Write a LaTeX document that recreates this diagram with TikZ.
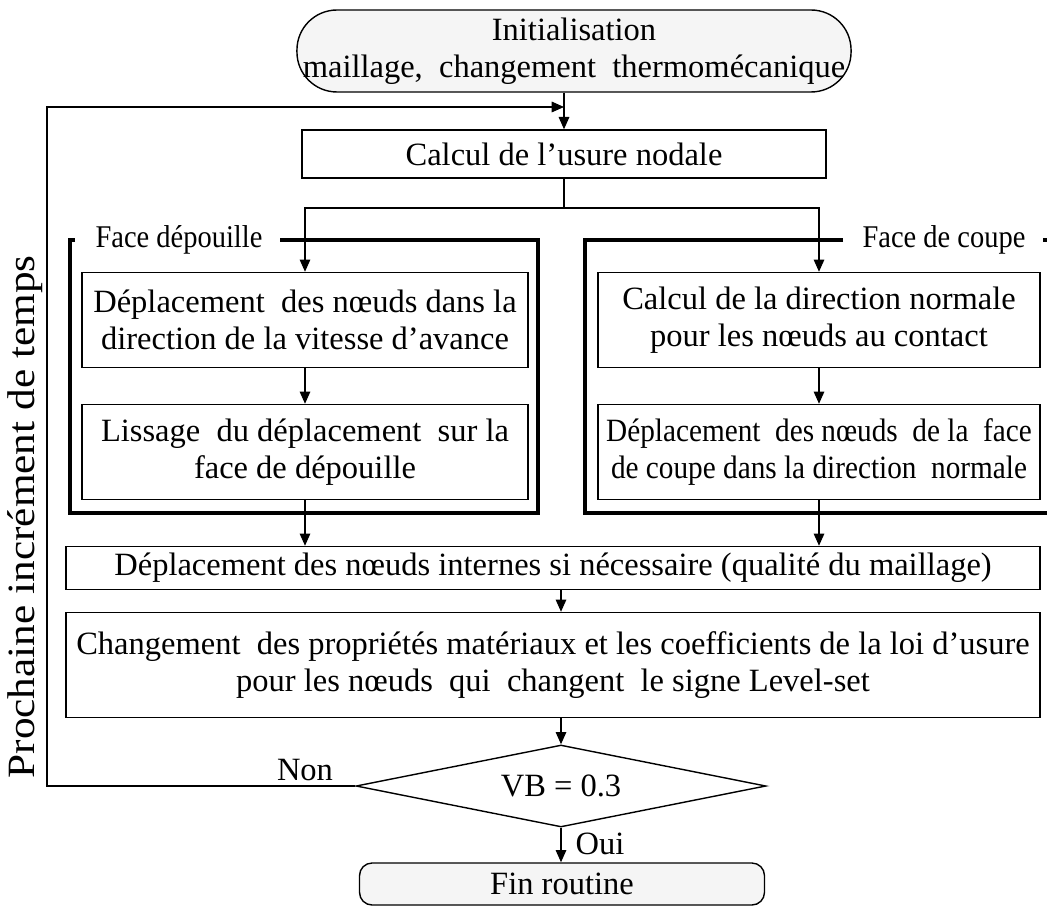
\documentclass[tikz,border=0pt]{standalone}
\usepackage{fontspec}
\setmainfont{Liberation Serif}
\newfontfamily\narrowserif[FakeStretch=0.9]{Liberation Serif}
\newfontfamily\wideserif[FakeStretch=1.12]{Liberation Serif}
\usetikzlibrary{shapes.geometric,arrows.meta,calc}

\begin{document}
\begin{tikzpicture}[x=0.02cm, y=-0.02cm,
    font=\fontsize{18.5}{21}\selectfont,
    box/.style={rectangle, draw, line width=0.8pt, align=center, inner sep=2pt},
    term/.style={rectangle, draw, line width=0.8pt, fill=gray!8, align=center},
    decision/.style={diamond, aspect=5, draw, line width=0.8pt, inner sep=0pt, minimum width=8.2cm, minimum height=1.64cm},
    facelabel/.style={font=\fontsize{18}{21}\narrowserif},
    thickframe/.style={line width=2.8pt},
    arr/.style={-{Triangle[length=7pt,width=6pt]}, line width=0.8pt},
    link/.style={line width=0.8pt}
]
    \clip (0,0) rectangle (1047,908);

    % start and end
    \node[term, rounded corners=0.8cm, minimum width=10.96cm, minimum height=1.64cm] (start) at (574,51)
        {Initialisation\\maillage,\ \ changement\ \ thermomécanique};
    \node[term, rounded corners=0.25cm, minimum width=8.1cm, minimum height=0.84cm] (fin) at (562,884) {Fin routine};

    % main steps
    \node[box, minimum width=10.48cm, minimum height=0.96cm] (calc) at (564,154) {Calcul de l’usure nodale};
    \node[box, minimum width=8.92cm, minimum height=1.9cm] (depl) at (305,320) {Déplacement\ \ des nœuds dans la\\direction de la vitesse d’avance};
    \node[box, minimum width=8.92cm, minimum height=1.9cm] (liss) at (305,452) {Lissage\ \ du déplacement\ \ sur la\\face de dépouille};
    \node[box, minimum width=8.84cm, minimum height=1.9cm] (dirn) at (819,320) {Calcul de la direction normale\\pour les nœuds au contact};
    \node[box, minimum width=8.84cm, minimum height=1.9cm, font=\fontsize{18.5}{21}\narrowserif] (depc) at (819,452) {Déplacement\ \ des nœuds\ \ de la\ \ face\\de coupe dans la direction\ \ normale};
    \node[box, minimum width=19.48cm, minimum height=0.86cm] (intn) at (553,568) {Déplacement des nœuds internes si nécessaire (qualité du maillage)};
    \node[box, minimum width=19.48cm, minimum height=2.1cm] (chgt) at (553,665)
        {Changement\ \ des propriétés matériaux et les coefficients de la loi d’usure\\pour les nœuds\ \ qui\ \ changent\ \ le signe Level-set};
    \node[decision] (vb) at (561,786) {VB = 0.3};

    % faces
    \node[facelabel] (faceD) at (179,240) {Face dépouille};
    \node[facelabel] (faceC) at (944,240) {Face de coupe};
    \draw[thickframe] (75,240) -- (70,240) -- (70,513) -- (538,513) -- (538,240) -- (280,240);
    \draw[thickframe] (843,240) -- (585,240) -- (585,513) -- (1060,513) -- (1060,240) -- (1043,240);

    \node[rotate=90, font=\fontsize{22}{24}\wideserif] (incr) at (25,517) {Prochaine incrément de temps};

    % connectors
    \coordinate (join) at (564,107);
    \coordinate (split) at (564,208);
    \coordinate (back) at (47,786);
    \draw[arr] (start.south -| calc.north) -- (calc.north);
    \draw[link] (calc.south) -- (split);
    \draw[arr] (split) -| (depl.north);
    \draw[arr] (split) -| (dirn.north);
    \draw[arr] (depl) -- (liss);
    \draw[arr] (dirn) -- (depc);
    \draw[arr] (liss.south) -- (liss.south |- intn.north);
    \draw[arr] (depc.south) -- (depc.south |- intn.north);
    \draw[arr] (intn.south -| vb.north) -- (vb.north |- chgt.north);
    \draw[arr] (chgt.south -| vb.north) -- (vb.north);
    \draw[arr] (vb.south) -- (vb.south |- fin.north);
    \node (oui) at (600,844) {Oui};
    \draw[arr] (vb.west) -- (back) |- (join);
    \node (non) at (305,770) {Non};
\end{tikzpicture}
\end{document}
